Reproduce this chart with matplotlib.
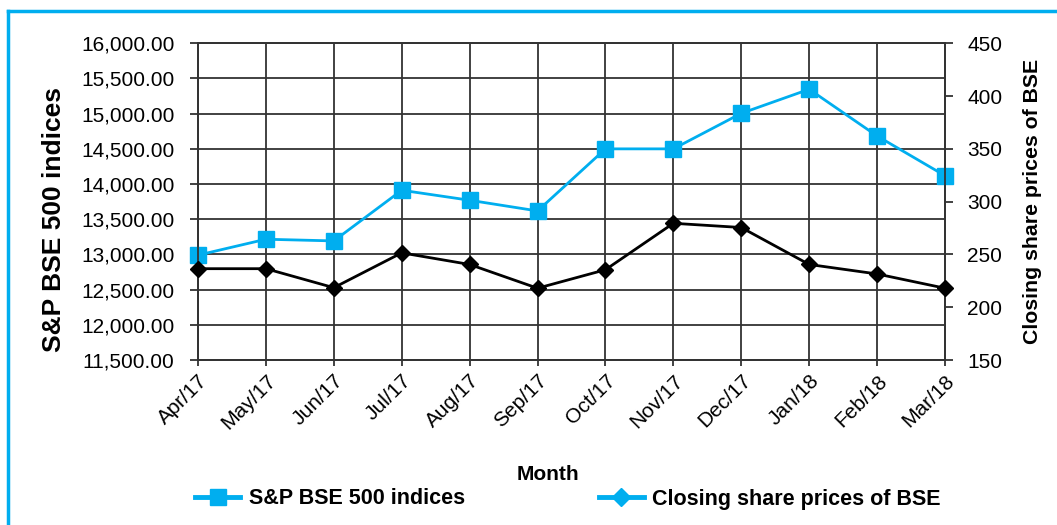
import matplotlib
matplotlib.use("Agg")
import matplotlib.pyplot as plt
from matplotlib.lines import Line2D
import numpy as np

plt.rcParams['font.family'] = ['Liberation Sans', 'DejaVu Sans']

months = ["Apr/17", "May/17", "Jun/17", "Jul/17", "Aug/17", "Sep/17",
          "Oct/17", "Nov/17", "Dec/17", "Jan/18", "Feb/18", "Mar/18"]
bse500 = [12990, 13216, 13192, 13912, 13770, 13618,
          14500, 14500, 15005, 15347, 14683, 14119]
bse_close = [236.5, 236.5, 218.5, 251.5, 240.5, 218,
             235.5, 279.5, 275.5, 240.5, 231.5, 218]

BLUE = '#00AEEF'
GRID = '#333333'

fig = plt.figure(figsize=(10.57, 5.25), dpi=100)
ax = fig.add_axes([198/1057, 1-360/525, (945-198)/1057, (360-43.3)/525])
ax2 = ax.twinx()

x = np.arange(len(months))
ax.plot(x, bse500, color=BLUE, lw=2, marker='s', ms=12, clip_on=False, zorder=5)
ax2.plot(x, bse_close, color='black', lw=2, marker='D', ms=8, clip_on=False, zorder=5)

ax.set_xlim(0, len(months)-1)
ax.set_ylim(11500, 16000)
ax.set_yticks(np.arange(11500, 16001, 500))
ax.set_yticklabels([f"{v:,.2f}" for v in np.arange(11500, 16001, 500)])
ax2.set_ylim(150, 450)
ax2.set_yticks(np.arange(150, 451, 50))

ax.set_xticks(x)
ax.set_xticklabels(months, rotation=45, ha='right', va='top', rotation_mode='anchor')
ax.grid(True, color=GRID, lw=1.3)
ax.set_axisbelow(True)

for a in (ax, ax2):
    for s in a.spines.values():
        s.set_color(GRID)
        s.set_linewidth(1.3)
ax.tick_params(axis='y', length=6, width=1.3, color=GRID, pad=11, labelsize=15)
ax.tick_params(axis='x', length=4, width=1.3, color=GRID, pad=4, labelsize=15)
ax2.tick_params(axis='y', length=6, width=1.3, color=GRID, pad=10, labelsize=15)

ax.set_ylabel("S&P BSE 500 indices", fontsize=19, fontweight='bold', labelpad=11)
ax.yaxis.label.set_y((360-220)/316.7)
ax2.set_ylabel("Closing share prices of BSE", fontsize=15.3, fontweight='bold', labelpad=15)
fig.text(548/1057, 1-474/525, "Month", ha='center', va='center', fontsize=15, fontweight='bold')

handles = [Line2D([], [], color=BLUE, lw=3.5, marker='s', ms=11),
           Line2D([], [], color=BLUE, lw=3.5, marker='D', ms=9)]
fig.legend(handles, ["S&P BSE 500 indices", "Closing share prices of BSE"],
           loc='center', bbox_to_anchor=(568/1057, 1-499/525), ncol=2, frameon=False,
           prop={'size': 15.5, 'weight': 'bold'}, handlelength=2.1, handletextpad=0.4,
           columnspacing=6.2, borderpad=0, borderaxespad=0)

# frame border (top and left visible)
fig.add_artist(Line2D([8/1057, 1], [1-11/525, 1-11/525], color=BLUE, lw=2.5, transform=fig.transFigure))
fig.add_artist(Line2D([8/1057, 8/1057], [0, 1-11/525], color=BLUE, lw=2.5, transform=fig.transFigure))

fig.savefig("out.png", dpi=100)
